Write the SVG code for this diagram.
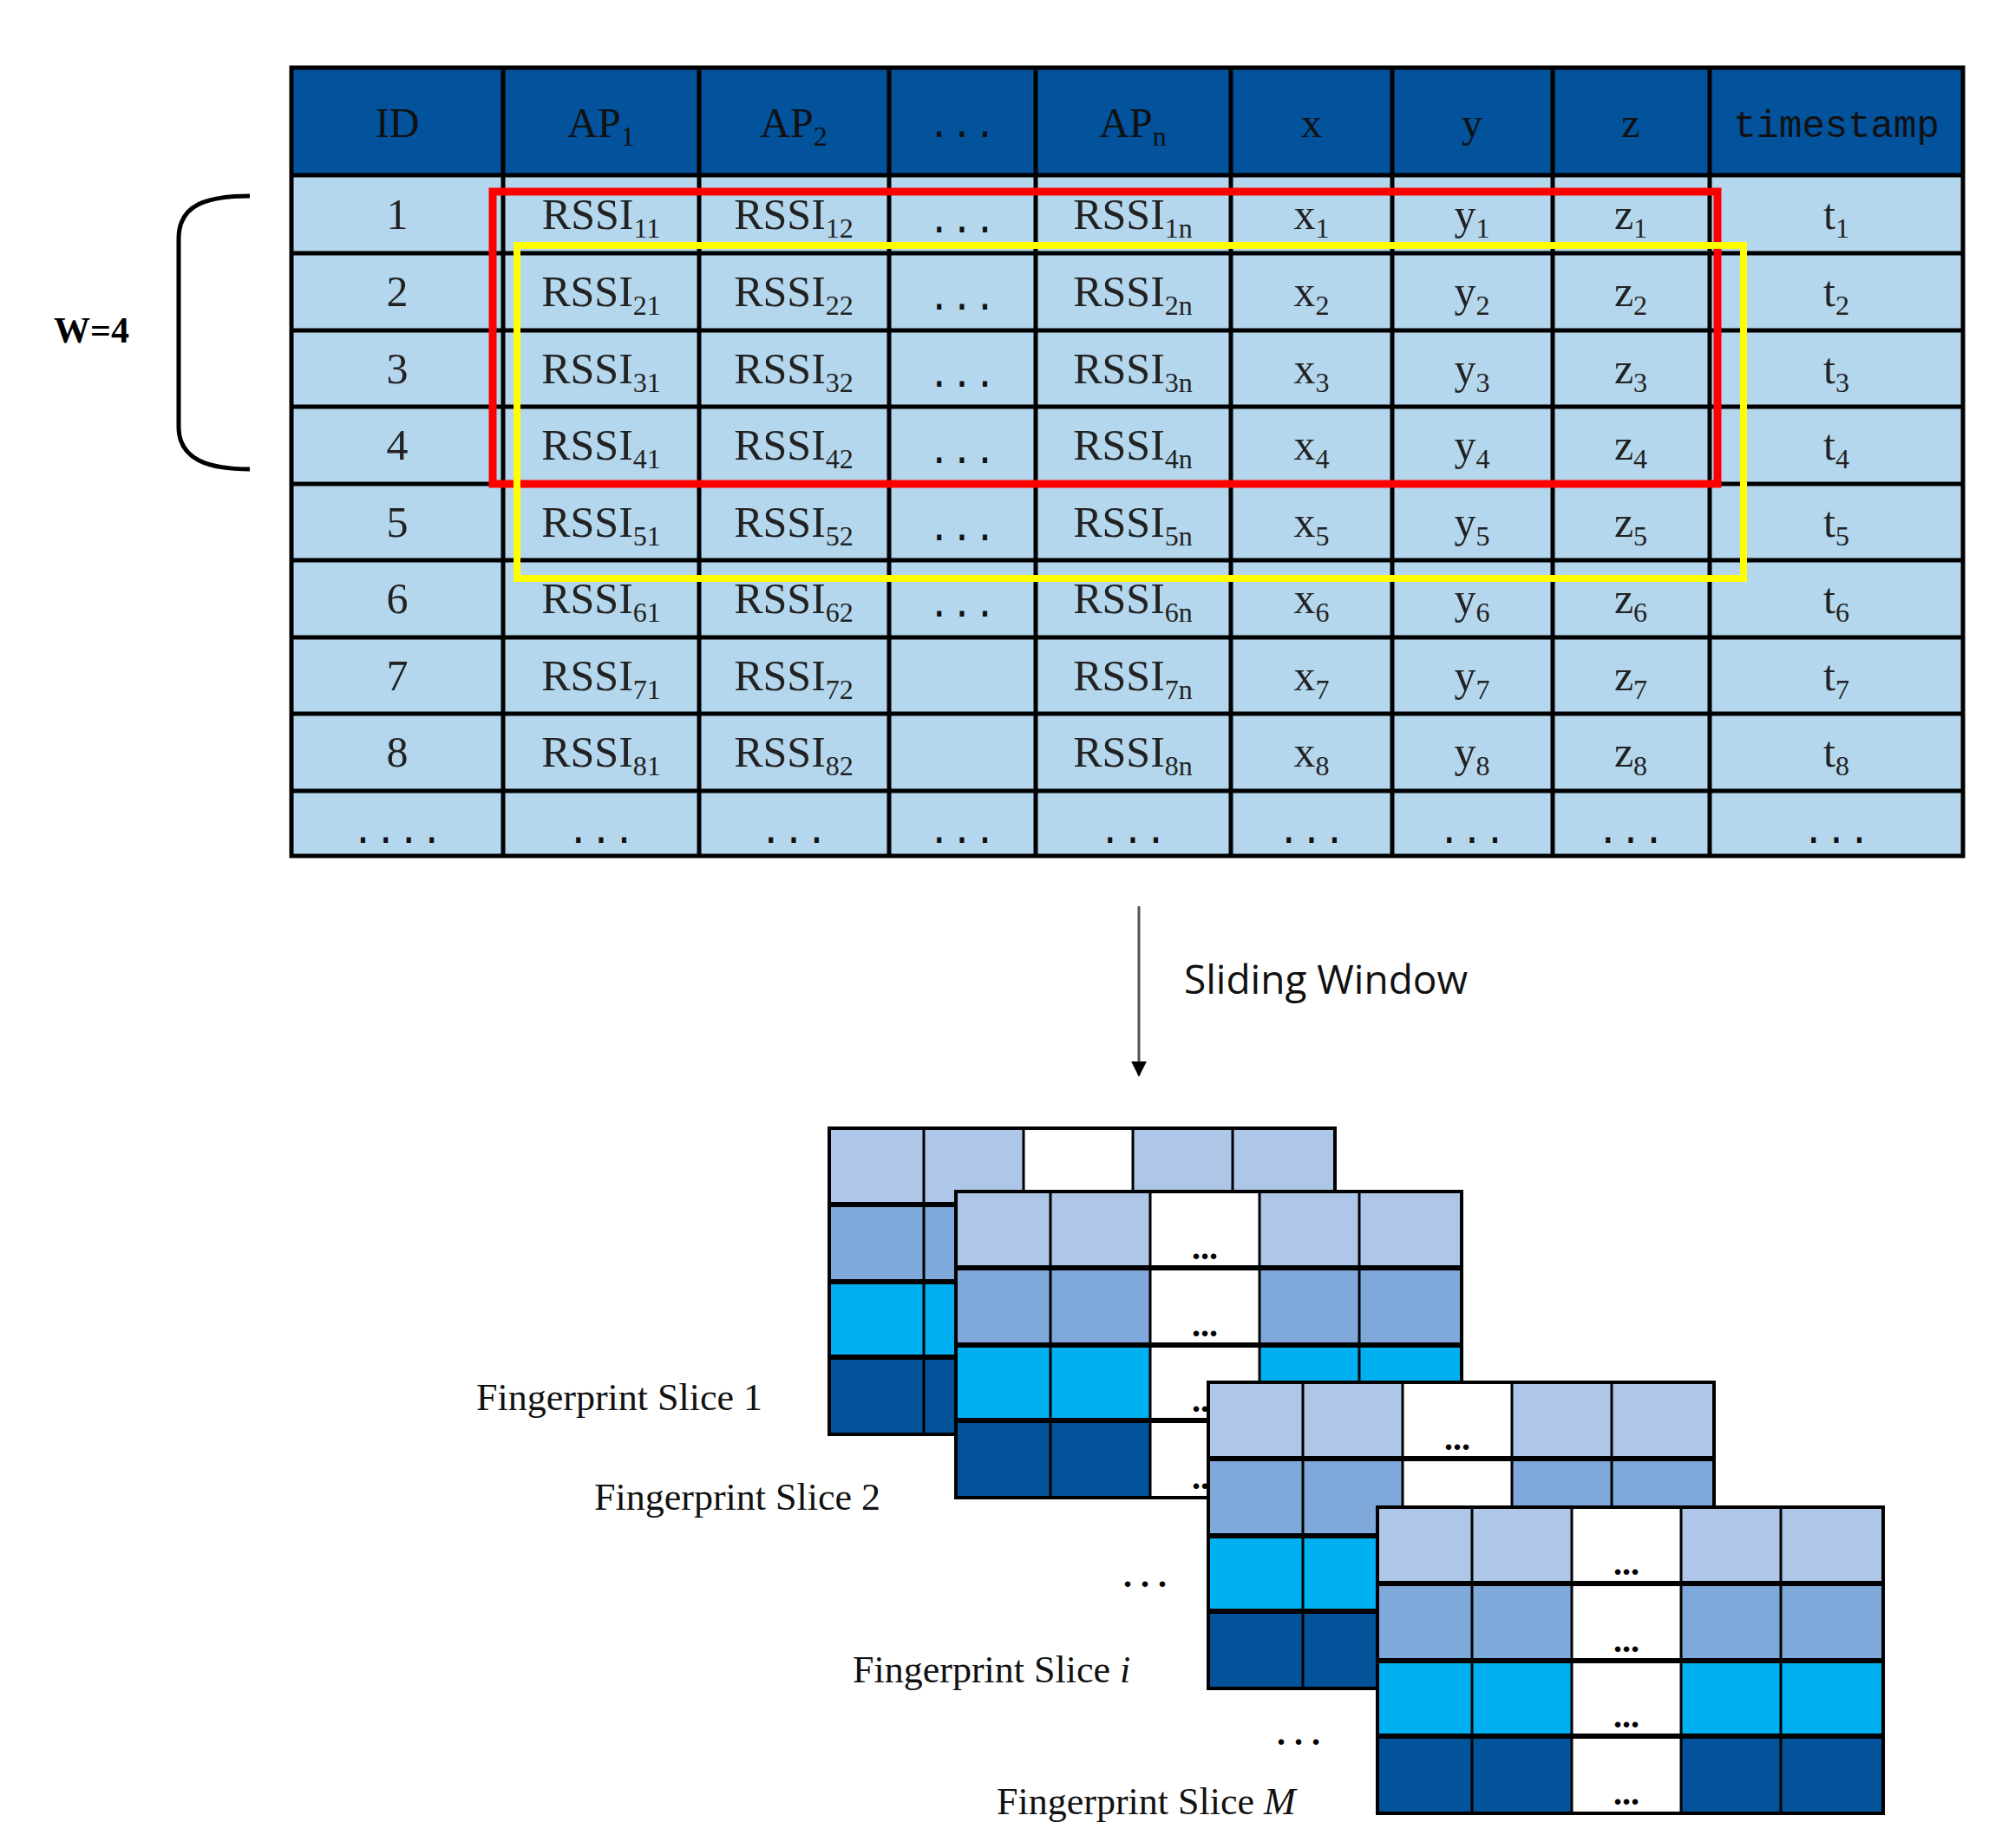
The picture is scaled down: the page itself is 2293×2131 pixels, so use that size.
<svg xmlns="http://www.w3.org/2000/svg" xmlns:xlink="http://www.w3.org/1999/xlink" width="2293" height="2131" viewBox="0 0 2293 2131">
<style>
.hd{fill:#02529C}
.bd{fill:#B4D7EE}
.grid{stroke:#000;stroke-width:5;fill:none}
.t{font-family:"Liberation Serif",serif;font-size:50px;fill:#222;text-anchor:middle}
.th{font-family:"Liberation Serif",serif;font-size:48px;fill:#111;text-anchor:middle}
.mono{font-family:"Liberation Mono",monospace;font-size:44px;fill:#111;text-anchor:middle}
.sb{font-size:32px}
.lab{font-family:"Liberation Serif",serif;font-size:44px;fill:#111}
.dd{font-family:"Liberation Serif",serif;font-size:40px;font-weight:bold;fill:#000;text-anchor:middle}
.r1{fill:#AEC6E8}.r2{fill:#7FA9DA}.r3{fill:#00B0F0}.r4{fill:#03539A}
.vl{stroke:#000;stroke-width:3}
.hl{stroke:#000;stroke-width:6}
</style>
<defs>
<marker id="ah" viewBox="0 0 10 10" refX="9" refY="5" markerWidth="6" markerHeight="6" orient="auto"><path d="M0,0L10,5L0,10z" fill="#000"/></marker>
<g id="slice">
<rect class="r1" x="0" y="0" width="583" height="88"/>
<rect class="r2" x="0" y="88" width="583" height="89"/>
<rect class="r3" x="0" y="177" width="583" height="87"/>
<rect class="r4" x="0" y="264" width="583" height="89"/>
<rect x="224" y="0" width="126" height="353" fill="#fff"/>
<line class="vl" x1="109" y1="0" x2="109" y2="353"/>
<line class="vl" x1="224" y1="0" x2="224" y2="353"/>
<line class="vl" x1="350" y1="0" x2="350" y2="353"/>
<line class="vl" x1="465" y1="0" x2="465" y2="353"/>
<line class="hl" x1="0" y1="88" x2="583" y2="88"/>
<line class="hl" x1="0" y1="177" x2="583" y2="177"/>
<line class="hl" x1="0" y1="264" x2="583" y2="264"/>
<text class="dd" x="287" y="78">...</text>
<text class="dd" x="287" y="167">...</text>
<text class="dd" x="287" y="254">...</text>
<text class="dd" x="287" y="343">...</text>
<rect x="0" y="0" width="583" height="353" fill="none" stroke="#000" stroke-width="4"/>
</g>
</defs>

<g id="table">
<rect class="hd" x="336" y="78" width="1927" height="124"/>
<rect class="bd" x="336" y="202" width="1927" height="785"/>
<g class="grid">
<rect x="336" y="78" width="1927" height="909"/>
<path d="M580 78V987M806 78V987M1025 78V987M1194 78V987M1419 78V987M1605 78V987M1790 78V987M1971 78V987"/>
<path d="M336 202H2263M336 292H2263M336 381H2263M336 469H2263M336 558H2263M336 646H2263M336 735H2263M336 823H2263M336 912H2263"/>
</g>
<g id="header">
<text class="th" x="458" y="158">ID</text>
<text class="th" x="693" y="158">AP<tspan class="sb" dy="10">1</tspan></text>
<text class="th" x="915" y="158">AP<tspan class="sb" dy="10">2</tspan></text>
<text class="mono" x="1109" y="158">...</text>
<text class="th" x="1306" y="158">AP<tspan class="sb" dy="10">n</tspan></text>
<text class="th" x="1512" y="158">x</text>
<text class="th" x="1697" y="158">y</text>
<text class="th" x="1880" y="158">z</text>
<text class="mono" x="2117" y="158">timestamp</text>
</g>
<g id="rows">
<text class="t" x="458" y="264">1</text><text class="t" x="693" y="264">RSSI<tspan class="sb" dy="10">11</tspan></text><text class="t" x="915" y="264">RSSI<tspan class="sb" dy="10">12</tspan></text><text class="mono" x="1109" y="268">...</text><text class="t" x="1306" y="264">RSSI<tspan class="sb" dy="10">1n</tspan></text><text class="t" x="1512" y="264">x<tspan class="sb" dy="10">1</tspan></text><text class="t" x="1697" y="264">y<tspan class="sb" dy="10">1</tspan></text><text class="t" x="1880" y="264">z<tspan class="sb" dy="10">1</tspan></text><text class="t" x="2117" y="264">t<tspan class="sb" dy="10">1</tspan></text>
<text class="t" x="458" y="353">2</text><text class="t" x="693" y="353">RSSI<tspan class="sb" dy="10">21</tspan></text><text class="t" x="915" y="353">RSSI<tspan class="sb" dy="10">22</tspan></text><text class="mono" x="1109" y="357">...</text><text class="t" x="1306" y="353">RSSI<tspan class="sb" dy="10">2n</tspan></text><text class="t" x="1512" y="353">x<tspan class="sb" dy="10">2</tspan></text><text class="t" x="1697" y="353">y<tspan class="sb" dy="10">2</tspan></text><text class="t" x="1880" y="353">z<tspan class="sb" dy="10">2</tspan></text><text class="t" x="2117" y="353">t<tspan class="sb" dy="10">2</tspan></text>
<text class="t" x="458" y="442">3</text><text class="t" x="693" y="442">RSSI<tspan class="sb" dy="10">31</tspan></text><text class="t" x="915" y="442">RSSI<tspan class="sb" dy="10">32</tspan></text><text class="mono" x="1109" y="446">...</text><text class="t" x="1306" y="442">RSSI<tspan class="sb" dy="10">3n</tspan></text><text class="t" x="1512" y="442">x<tspan class="sb" dy="10">3</tspan></text><text class="t" x="1697" y="442">y<tspan class="sb" dy="10">3</tspan></text><text class="t" x="1880" y="442">z<tspan class="sb" dy="10">3</tspan></text><text class="t" x="2117" y="442">t<tspan class="sb" dy="10">3</tspan></text>
<text class="t" x="458" y="530">4</text><text class="t" x="693" y="530">RSSI<tspan class="sb" dy="10">41</tspan></text><text class="t" x="915" y="530">RSSI<tspan class="sb" dy="10">42</tspan></text><text class="mono" x="1109" y="534">...</text><text class="t" x="1306" y="530">RSSI<tspan class="sb" dy="10">4n</tspan></text><text class="t" x="1512" y="530">x<tspan class="sb" dy="10">4</tspan></text><text class="t" x="1697" y="530">y<tspan class="sb" dy="10">4</tspan></text><text class="t" x="1880" y="530">z<tspan class="sb" dy="10">4</tspan></text><text class="t" x="2117" y="530">t<tspan class="sb" dy="10">4</tspan></text>
<text class="t" x="458" y="619">5</text><text class="t" x="693" y="619">RSSI<tspan class="sb" dy="10">51</tspan></text><text class="t" x="915" y="619">RSSI<tspan class="sb" dy="10">52</tspan></text><text class="mono" x="1109" y="623">...</text><text class="t" x="1306" y="619">RSSI<tspan class="sb" dy="10">5n</tspan></text><text class="t" x="1512" y="619">x<tspan class="sb" dy="10">5</tspan></text><text class="t" x="1697" y="619">y<tspan class="sb" dy="10">5</tspan></text><text class="t" x="1880" y="619">z<tspan class="sb" dy="10">5</tspan></text><text class="t" x="2117" y="619">t<tspan class="sb" dy="10">5</tspan></text>
<text class="t" x="458" y="707">6</text><text class="t" x="693" y="707">RSSI<tspan class="sb" dy="10">61</tspan></text><text class="t" x="915" y="707">RSSI<tspan class="sb" dy="10">62</tspan></text><text class="mono" x="1109" y="711">...</text><text class="t" x="1306" y="707">RSSI<tspan class="sb" dy="10">6n</tspan></text><text class="t" x="1512" y="707">x<tspan class="sb" dy="10">6</tspan></text><text class="t" x="1697" y="707">y<tspan class="sb" dy="10">6</tspan></text><text class="t" x="1880" y="707">z<tspan class="sb" dy="10">6</tspan></text><text class="t" x="2117" y="707">t<tspan class="sb" dy="10">6</tspan></text>
<text class="t" x="458" y="796">7</text><text class="t" x="693" y="796">RSSI<tspan class="sb" dy="10">71</tspan></text><text class="t" x="915" y="796">RSSI<tspan class="sb" dy="10">72</tspan></text><text class="t" x="1306" y="796">RSSI<tspan class="sb" dy="10">7n</tspan></text><text class="t" x="1512" y="796">x<tspan class="sb" dy="10">7</tspan></text><text class="t" x="1697" y="796">y<tspan class="sb" dy="10">7</tspan></text><text class="t" x="1880" y="796">z<tspan class="sb" dy="10">7</tspan></text><text class="t" x="2117" y="796">t<tspan class="sb" dy="10">7</tspan></text>
<text class="t" x="458" y="884">8</text><text class="t" x="693" y="884">RSSI<tspan class="sb" dy="10">81</tspan></text><text class="t" x="915" y="884">RSSI<tspan class="sb" dy="10">82</tspan></text><text class="t" x="1306" y="884">RSSI<tspan class="sb" dy="10">8n</tspan></text><text class="t" x="1512" y="884">x<tspan class="sb" dy="10">8</tspan></text><text class="t" x="1697" y="884">y<tspan class="sb" dy="10">8</tspan></text><text class="t" x="1880" y="884">z<tspan class="sb" dy="10">8</tspan></text><text class="t" x="2117" y="884">t<tspan class="sb" dy="10">8</tspan></text>
<text class="mono" x="458" y="972">....</text><text class="mono" x="693" y="972">...</text><text class="mono" x="915" y="972">...</text><text class="mono" x="1109" y="972">...</text><text class="mono" x="1306" y="972">...</text><text class="mono" x="1512" y="972">...</text><text class="mono" x="1697" y="972">...</text><text class="mono" x="1880" y="972">...</text><text class="mono" x="2117" y="972">...</text>
</g>
</g>

<g id="red-window"><rect x="568" y="221" width="1412" height="337" fill="none" stroke="#FF0000" stroke-width="9"/></g>
<g id="yellow-window"><rect x="596" y="283" width="1414" height="384" fill="none" stroke="#FFFF00" stroke-width="8"/></g>

<g id="bracket">
<path d="M288 226C240 226 206 235 206 275V492C206 530 240 541 288 541" fill="none" stroke="#000" stroke-width="5"/>
<text x="62" y="395" style="font-family:'Liberation Serif',serif;font-size:42px;font-weight:bold;fill:#000">W=4</text>
</g>

<g id="connectors">
<line x1="1313" y1="1045" x2="1313" y2="1240" stroke="#555" stroke-width="3" marker-end="url(#ah)"/>
</g>
<text x="1365" y="1146" style="font-family:'Open Sans',sans-serif;font-size:46px;fill:#111">Sliding Window</text>

<g id="slice1"><use xlink:href="#slice" x="956" y="1301"/></g>
<g id="slice2"><use xlink:href="#slice" x="1102" y="1374"/></g>
<g id="slicei"><use xlink:href="#slice" x="1393" y="1594"/></g>
<g id="sliceM"><use xlink:href="#slice" x="1588" y="1738"/></g>

<g id="labels">
<text class="lab" x="549" y="1626">Fingerprint Slice 1</text>
<text class="lab" x="685" y="1741">Fingerprint Slice 2</text>
<text class="dd" x="1320" y="1830">. . .</text>
<text class="lab" x="983" y="1940">Fingerprint Slice <tspan font-style="italic">i</tspan></text>
<text class="dd" x="1497" y="2012">. . .</text>
<text class="lab" x="1149" y="2092">Fingerprint Slice <tspan font-style="italic">M</tspan></text>
</g>
</svg>
